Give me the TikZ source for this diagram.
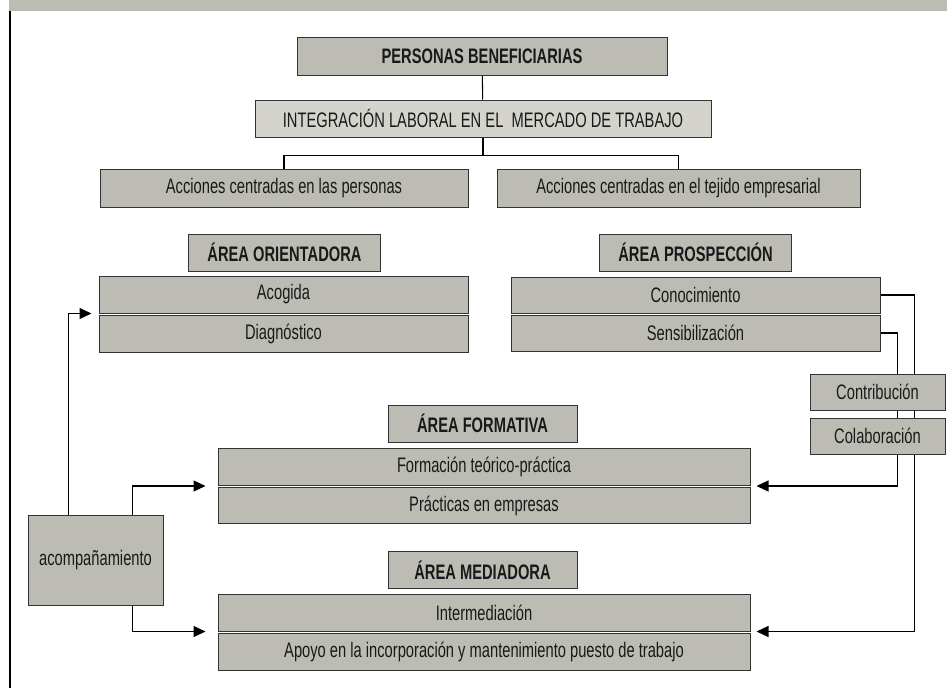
\documentclass[tikz,border=0pt]{standalone}
\usepackage{fontspec}
\setmainfont{Liberation Sans}[FakeStretch=0.70]
\usetikzlibrary{positioning,arrows.meta,backgrounds}
\definecolor{boxgray}{RGB}{189,188,180}
\definecolor{boxlight}{RGB}{212,211,204}

\begin{document}
\begin{tikzpicture}%
  [x=1pt,y=-1pt,
   box/.style=
    {draw=black!80,fill=boxgray,line width=1pt,inner sep=0pt,
     minimum height=37pt,text=black!90,font=\fontsize{21}{23}\selectfont},
   area/.style=
    {box,minimum width=192pt,font=\fontsize{21}{23}\selectfont\bfseries},
   flow/.style={line width=1.1pt,-{Triangle[length=12pt,width=11pt]}},
   link/.style={line width=1.1pt}
  ]
  \useasboundingbox (0,0) rectangle (947,688);
  \fill[boxgray] (9,0) rectangle (947,11);
  \draw[line width=1.2pt] (10,11) -- (10,688);

  \node[area,minimum width=370pt,minimum height=38pt] (pb) at (482,56) {PERSONAS BENEFICIARIAS};
  \node[box,fill=boxlight,minimum width=456pt] (integ) at (483,118.5)
    {INTEGRACIÓN LABORAL EN EL\ \ MERCADO DE TRABAJO};
  \node[box,minimum width=368pt,minimum height=38pt] (accper) at (284,188) {Acciones centradas en las personas};
  \node[box,minimum width=363pt,minimum height=38pt] (acctej) at (678.5,188) {Acciones centradas en el tejido empresarial};

  % area orientadora
  \node[area] (orient) at (284.5,252.5) {ÁREA ORIENTADORA};
  \node[box,minimum width=369pt] (acog) at (283.5,294.5) {Acogida};
  \node[box,minimum width=369pt,below=1pt of acog] (diag) {Diagnóstico};

  % area prospeccion
  \node[area] (prosp) at (695.5,252.5) {ÁREA PROSPECCIÓN};
  \node[box,minimum width=369pt,minimum height=36pt] (conoc) at (695.5,295) {Conocimiento};
  \node[box,minimum width=369pt,minimum height=36pt,below=1pt of conoc] (sensi) {Sensibilización};
  \node[box,minimum width=135pt,minimum height=36pt] (contr) at (877.5,392) {Contribución};
  \node[box,minimum width=135pt,minimum height=36pt] (colab) at (877.5,436) {Colaboración};

  % area formativa
  \node[area,minimum width=189pt] (format) at (482.5,423.5) {ÁREA FORMATIVA};
  \node[box,minimum width=532pt] (ftp) at (484,467) {Formación teórico-práctica};
  \node[box,minimum width=532pt,minimum height=36pt,below=1pt of ftp] (pract) {Prácticas en empresas};

  \node[box,minimum width=135pt,minimum height=90pt] (acomp) at (95.5,560) {acompañamiento};

  % area mediadora
  \node[area,minimum width=189pt] (mediad) at (482.5,570) {ÁREA MEDIADORA};
  \node[box,minimum width=532pt] (interm) at (484,612.5) {Intermediación};
  \node[box,minimum width=532pt,below=1pt of interm] (apoyo)
    {Apoyo en la incorporación y mantenimiento puesto de trabajo};

  \begin{scope}[on background layer]
    \draw[link] (pb) -- (integ);
    \draw[link] (integ.south) -- ++(0,18) coordinate (split);
    \draw[link] (accper.north) |- (split) -| (acctej.north);
    \draw[flow,shorten >=6pt] (conoc.east) -- ++(34,0) |- (interm.south east);
    \draw[flow,shorten >=6pt] (sensi.east) -- ++(17,0) |- (ftp.south east);
    \draw[flow,shorten >=7pt] ([xshift=41pt]acomp.north west) |- (acog.south west);
    \draw[flow,shorten >=12pt] ([xshift=-31pt]acomp.north east) |- (ftp.south west);
    \draw[flow,shorten >=12pt] ([xshift=-31pt]acomp.south east) |- (interm.south west);
  \end{scope}

\end{tikzpicture}
\end{document}
